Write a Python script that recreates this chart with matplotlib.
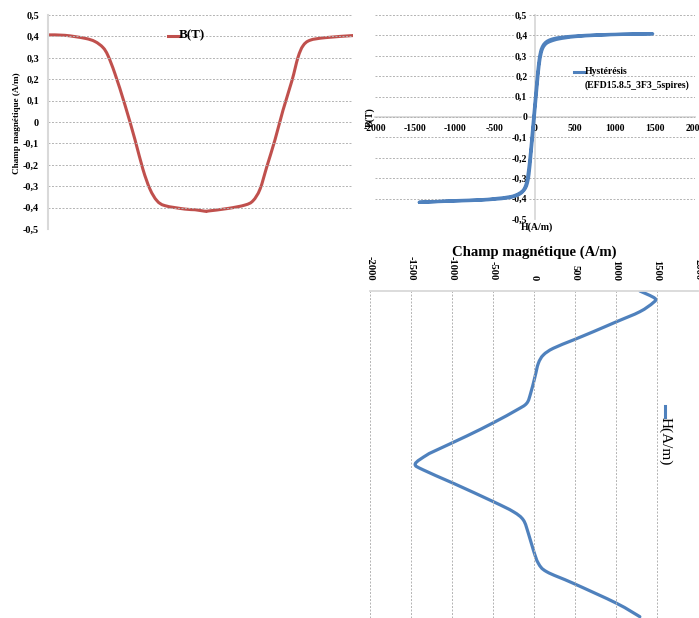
import matplotlib
matplotlib.use("Agg")
import matplotlib.pyplot as plt
from matplotlib.lines import Line2D
from matplotlib.path import Path
from matplotlib.patches import PathPatch

# ---------------- data ----------------
# B(T) time series (top-left), sample index -> B
b_time = [0, 17, 37, 47, 55, 60, 67, 77, 87, 95, 102, 109, 117, 137, 147, 157,
          160, 180, 197, 205, 212, 219, 227, 235, 244, 250, 255, 262, 277, 305]
b_vals = [0.407, 0.405, 0.391, 0.376, 0.348, 0.31, 0.225, 0.079, -0.083, -0.222,
          -0.314, -0.368, -0.391, -0.407, -0.410, -0.417, -0.416, -0.404, -0.388,
          -0.368, -0.314, -0.206, -0.083, 0.055, 0.194, 0.302, 0.356, 0.382,
          0.394, 0.404]

# Hysteresis loop (top-right): H (A/m) and B (T)
hyst_up_H = [-1446, -1000, -700, -500, -350, -250, -180, -130, -100, -75, -50,
             -25, 0, 25, 50, 75, 100, 140, 200, 300, 500, 800, 1100, 1471]
hyst_up_B = [-0.418, -0.412, -0.408, -0.403, -0.397, -0.388, -0.375, -0.355,
             -0.33, -0.28, -0.18, -0.07, 0.04, 0.15, 0.25, 0.31, 0.34, 0.36,
             0.372, 0.383, 0.394, 0.401, 0.405, 0.408]
hyst_down_H = [1471, 1100, 800, 500, 300, 200, 140, 100, 70, 45, 20, -5, -30,
               -55, -80, -105, -140, -200, -300, -500, -700, -1000, -1446]
hyst_down_B = [0.408, 0.406, 0.403, 0.397, 0.389, 0.38, 0.368, 0.35, 0.32, 0.26,
               0.16, 0.05, -0.06, -0.17, -0.26, -0.32, -0.355, -0.375, -0.39,
               -0.4, -0.406, -0.41, -0.418]

# H(A/m) time series (bottom, rotated): sample index -> H
h_time = [0, 7.3, 11.7, 20.7, 30.7, 40.7, 49, 57.3, 64, 72.3, 85.7, 102.3, 112.3,
          119, 131.7, 145, 159, 164, 173, 179, 192.3, 210.7, 220.7, 229, 242.3,
          259, 272.3, 280.7, 292.3, 312.3, 325.7]
h_vals = [1291, 1474, 1453, 1291, 1007, 723, 479, 235, 114, 53, 12, -41, -89,
          -211, -495, -820, -1186, -1307, -1449, -1348, -983, -495, -252, -130,
          -69, -8, 53, 154, 479, 1007, 1291]

b_ticks = [0.5, 0.4, 0.3, 0.2, 0.1, 0, -0.1, -0.2, -0.3, -0.4, -0.5]
b_tick_labels = ["0,5", "0,4", "0,3", "0,2", "0,1", "0", "-0,1", "-0,2", "-0,3",
                 "-0,4", "-0,5"]
h_ticks = [-2000, -1500, -1000, -500, 0, 500, 1000, 1500, 2000]
h_tick_labels = ["-2000", "-1500", "-1000", "-500", "0", "500", "1000", "1500",
                 "2000"]

# ---------------- style ----------------
RED = "#C0504D"
BLUE = "#4F81BD"
GRID = "#B3B3B3"
SPINE = "#D9D9D9"
SERIF = "Liberation Serif"
W, H = 699, 618

fig = plt.figure(figsize=(W / 100, H / 100), dpi=100)
fig.patch.set_facecolor("white")


def fx(px):
    return px / W


def fy(py):
    return 1 - py / H


def smooth_line(ax, xs, ys, **kw):
    """Draw an Excel-style smoothed line (Bezier through the data points)
    in the axes' data coordinates."""
    # work in display space so the smoothing is isotropic, then map back
    pts = ax.transData.transform(list(zip(xs, ys)))
    inv = ax.transData.inverted()
    n = len(pts)
    verts = [tuple(pts[0])]
    codes = [Path.MOVETO]
    for i in range(n - 1):
        p0 = pts[i - 1] if i > 0 else pts[i]
        p1 = pts[i]
        p2 = pts[i + 1]
        p3 = pts[i + 2] if i + 2 < n else pts[i + 1]
        c1 = p1 + (p2 - p0) / 6.0
        c2 = p2 - (p3 - p1) / 6.0
        verts += [tuple(c1), tuple(c2), tuple(p2)]
        codes += [Path.CURVE4] * 3
    verts = inv.transform(verts)
    patch = PathPatch(Path(verts, codes), fill=False, transform=ax.transData,
                      capstyle="round", joinstyle="round", **kw)
    ax.add_patch(patch)
    return patch


grid_kw = dict(color=GRID, linestyle=(0, (2.0, 1.6)), linewidth=0.7)

# ---------------- top-left: B(T) ----------------
ax1 = fig.add_axes([fx(48), fy(229), (353 - 48) / W, (229 - 15) / H])
ax1.set_xlim(0, 305)
ax1.set_ylim(-0.5, 0.5)
for s in ["top", "right", "bottom"]:
    ax1.spines[s].set_visible(False)
ax1.spines["left"].set_color(SPINE)
ax1.spines["left"].set_linewidth(1.5)
ax1.set_yticks(b_ticks)
ax1.set_yticklabels(b_tick_labels, fontfamily=SERIF, fontweight="bold", fontsize=7.3)
ax1.set_xticks([])
ax1.tick_params(axis="y", length=0, pad=6.5)
ax1.yaxis.grid(True, **grid_kw)
ax1.set_facecolor("none")
smooth_line(ax1, b_time, b_vals, edgecolor=RED, lw=2.2)
fig.text(fx(17), fy(123), "Champ magnétique (A/m)", rotation=90, ha="center",
         va="center", fontfamily=SERIF, fontweight="bold", fontsize=6.6)
fig.add_artist(Line2D([fx(168), fx(179)], [fy(35.5), fy(35.5)],
                      transform=fig.transFigure, color=RED, lw=2.2))
fig.text(fx(179), fy(35.5), "B(T)", ha="left", va="center", fontfamily=SERIF,
         fontweight="bold", fontsize=9.4)

# ---------------- top-right: hysteresis ----------------
ax2 = fig.add_axes([fx(375), fy(219), 320 / W, (219 - 15) / H])
ax2.set_xlim(-2000, 2000)
ax2.set_ylim(-0.5, 0.5)
ax2.spines["top"].set_visible(False)
ax2.spines["right"].set_visible(False)
ax2.spines["left"].set_position(("data", 0))
ax2.spines["bottom"].set_position(("data", 0))
for s in ["left", "bottom"]:
    ax2.spines[s].set_color(SPINE)
    ax2.spines[s].set_linewidth(1.3)
    ax2.spines[s].set_zorder(0.5)
ax2.set_yticks(b_ticks)
ax2.set_yticklabels(b_tick_labels, fontfamily=SERIF, fontweight="bold", fontsize=7)
ax2.set_xticks(h_ticks)
ax2.set_xticklabels(h_tick_labels, fontfamily=SERIF, fontweight="bold", fontsize=7)
for lab in ax2.get_yticklabels():
    lab.set_bbox(dict(facecolor="white", edgecolor="none", pad=0.6))
ax2.tick_params(axis="both", length=0)
ax2.tick_params(axis="y", pad=5.5)
ax2.tick_params(axis="x", pad=5.0)
ax2.yaxis.grid(True, **grid_kw)
ax2.set_facecolor("none")
smooth_line(ax2, hyst_up_H + hyst_down_H[1:], hyst_up_B + hyst_down_B[1:],
            edgecolor=BLUE, lw=2.3, zorder=3)
fig.text(fx(370), fy(117), "B(T)", rotation=90, ha="center", va="center",
         fontfamily=SERIF, fontweight="bold", fontsize=7.1)
fig.text(fx(537), fy(227), "H(A/m)", ha="center", va="center",
         fontfamily=SERIF, fontweight="bold", fontsize=7.1)
fig.add_artist(Line2D([fx(574), fx(585)], [fy(72), fy(72)],
                      transform=fig.transFigure, color=BLUE, lw=2.2))
fig.text(fx(585), fy(72), "Hystérésis", ha="left", va="center",
         fontfamily=SERIF, fontweight="bold", fontsize=7)
fig.text(fx(585), fy(85), "(EFD15.8.5_3F3_5spires)", ha="left", va="center",
         fontfamily=SERIF, fontweight="bold", fontsize=7)

# ---------------- bottom: H(A/m), rotated ----------------
ax3 = fig.add_axes([fx(370), 0, 328 / W, (618 - 291) / H])
ax3.set_xlim(-2000, 2000)
ax3.set_ylim(327, 0)
for s in ["bottom", "left", "right"]:
    ax3.spines[s].set_visible(False)
ax3.spines["top"].set_color(SPINE)
ax3.spines["top"].set_linewidth(1.3)
ax3.xaxis.tick_top()
ax3.set_xticks(h_ticks)
ax3.set_xticklabels(h_tick_labels, fontfamily=SERIF, fontweight="bold",
                    fontsize=7.6, rotation=-90)
ax3.set_yticks([])
ax3.tick_params(axis="x", length=0, pad=7.5)
ax3.xaxis.grid(True, **grid_kw)
ax3.set_facecolor("none")
smooth_line(ax3, h_vals, h_time, edgecolor=BLUE, lw=2.3)
fig.text(fx(534), fy(252), "Champ magnétique (A/m)", ha="center", va="center",
         fontfamily=SERIF, fontweight="bold", fontsize=10.6)
fig.add_artist(Line2D([fx(665), fx(665)], [fy(406), fy(417)],
                      transform=fig.transFigure, color=BLUE, lw=2.2))
fig.text(fx(665), fy(417), "H(A/m)", rotation=-90, ha="center", va="top",
         fontfamily=SERIF, fontsize=11)

fig.savefig("out.png", dpi=100, facecolor="white")
